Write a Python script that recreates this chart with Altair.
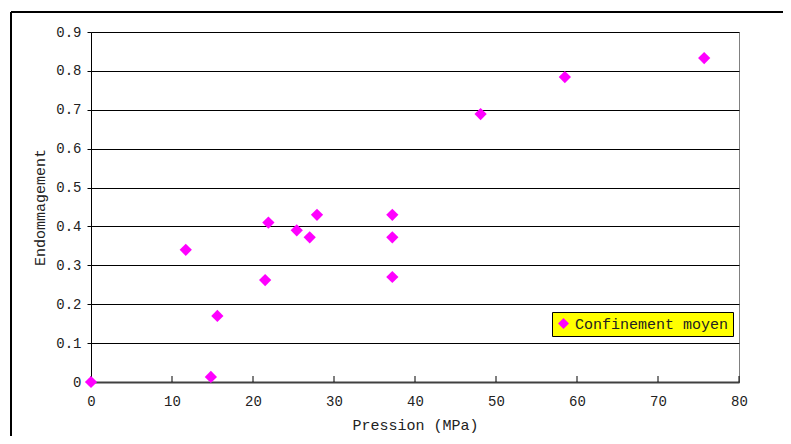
import altair as alt
import pandas as pd

pression = [0, 14.8, 11.7, 15.6, 21.5, 21.9, 25.4, 27.0, 27.9, 37.2, 37.2, 37.2, 48.1, 58.5, 75.7]
endommagement = [0, 0.013, 0.34, 0.17, 0.262, 0.41, 0.39, 0.372, 0.43, 0.43, 0.372, 0.27, 0.689, 0.784, 0.833]
series = "Confinement moyen"
x_ticks = [0, 10, 20, 30, 40, 50, 60, 70, 80]
y_ticks = [0, 0.1, 0.2, 0.3, 0.4, 0.5, 0.6, 0.7, 0.8, 0.9]

FONT = "Liberation Mono"

df = pd.DataFrame({"p": pression, "d": endommagement, "s": [series] * len(pression)})
ticks_df = pd.DataFrame({"t": x_ticks})

xscale = alt.Scale(domain=[0, 80], nice=False, zero=False)
yscale = alt.Scale(domain=[0, 0.9], nice=False)

points = alt.Chart(df).mark_point(shape="diamond", filled=True, size=150, opacity=1).encode(
    x=alt.X("p:Q", scale=xscale, title="Pression (MPa)",
            axis=alt.Axis(values=x_ticks, grid=False, ticks=False, tickSize=0, labelPadding=12,
                          labelFlush=False,
                          domainColor="#404040", domainWidth=2, titlePadding=9,
                          labelFont=FONT, labelFontSize=14, labelColor="#222",
                          titleFont=FONT, titleFontSize=15, titleFontWeight="normal", titleColor="#222")),
    y=alt.Y("d:Q", scale=yscale, title="Endommagement",
            axis=alt.Axis(values=y_ticks, grid=True, gridColor="#000", gridWidth=1, format=".1~f",
                          tickSize=4, tickColor="#000", domainColor="#000", labelPadding=6,
                          labelFlush=False,
                          titlePadding=8, labelFont=FONT, labelFontSize=14, labelColor="#222",
                          titleFont=FONT, titleFontSize=15, titleFontWeight="normal", titleColor="#222")),
    color=alt.Color("s:N", scale=alt.Scale(range=["#ff00ff"]),
                    legend=alt.Legend(title=None, orient="none", legendX=461, legendY=280,
                                      fillColor="#ffff00", strokeColor="#000", padding=4,
                                      symbolType="diamond", symbolSize=120, symbolOpacity=1,
                                      labelFont=FONT, labelFontSize=15, labelColor="#222",
                                      labelLimit=300)),
)

xticks = alt.Chart(ticks_df).mark_rule(color="#000", strokeWidth=1).encode(
    x=alt.X("t:Q", scale=xscale),
    y=alt.value(350),
    y2=alt.value(344),
)

frame_left = alt.Chart(ticks_df).mark_rule(color="#000", strokeWidth=2).encode(
    x=alt.value(-80), y=alt.value(-20), y2=alt.value(420)
)
frame_top = alt.Chart(ticks_df).mark_rule(color="#000", strokeWidth=2).encode(
    x=alt.value(-80), x2=alt.value(720), y=alt.value(-20)
)

chart = alt.layer(xticks, points, frame_left, frame_top).properties(
    width=648, height=350,
    autosize=alt.AutoSizeParams(type="none"),
    padding={"left": 83, "top": 24, "right": 44, "bottom": 54},
    background="white",
).configure_view(stroke="#808080", strokeWidth=1)

chart.save("out.html", embed_options={"renderer": "svg", "actions": False})
